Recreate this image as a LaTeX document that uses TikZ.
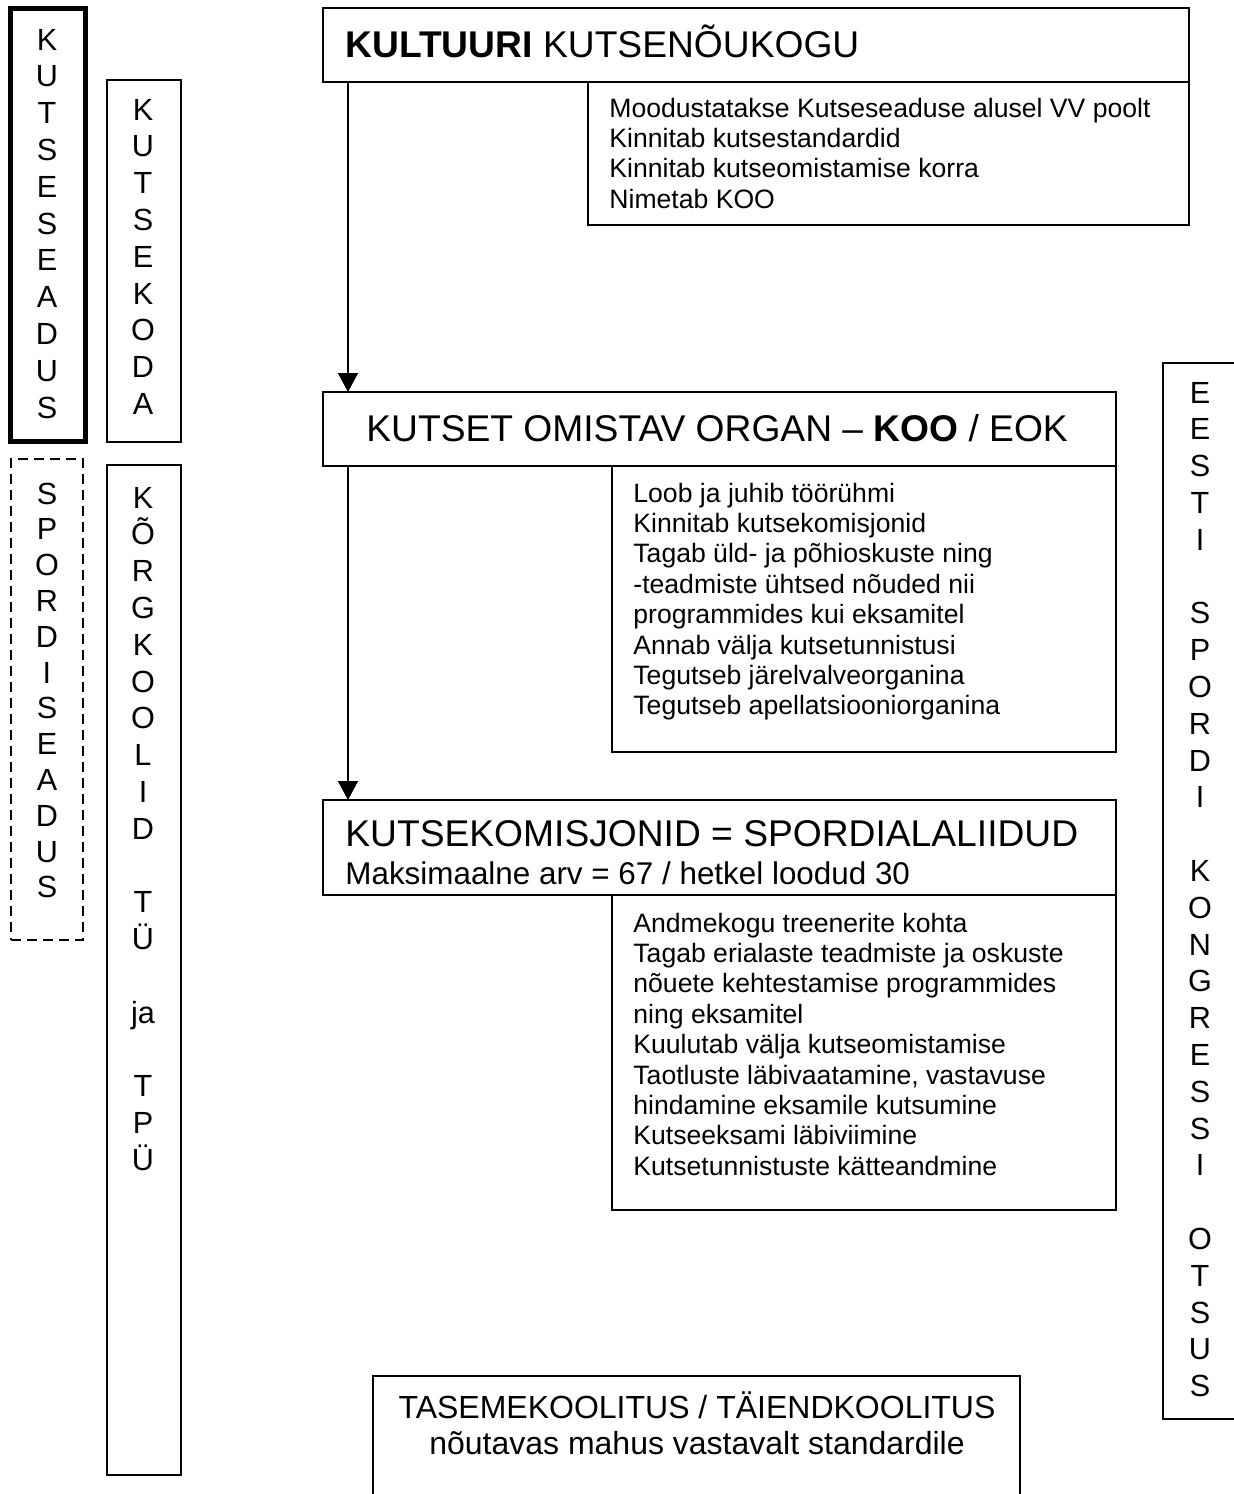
\documentclass[tikz,border=0pt]{standalone}
\usepackage{fontspec}
\setmainfont{Liberation Sans}
\usetikzlibrary{arrows.meta,calc}
\begin{document}
\begin{tikzpicture}[x=0.5pt,y=-0.5pt,
  box/.style={draw, line width=0.9pt, inner sep=0pt, outer sep=0pt},
  thickbox/.style={box, line width=2.6pt},
  dashbox/.style={box, dash pattern=on 5pt off 3pt},
  head/.style={inner sep=0pt, anchor=base west, font=\fontsize{18.6}{22}\selectfont},
  sub/.style={inner sep=0pt, anchor=base west, font=\fontsize{15.7}{18}\selectfont},
  body/.style={inner sep=0pt, anchor=base west, font=\fontsize{13.3}{15.2}\selectfont},
  bot/.style={inner sep=0pt, anchor=base, font=\fontsize{16}{18}\selectfont},
  vert/.style={inner sep=0pt, anchor=base, font=\fontsize{15.3}{18.4}\selectfont},
  arr/.style={line width=0.9pt, -{Triangle[length=9.5pt,width=10pt]}}
]
\useasboundingbox (0,0) rectangle (1234,1494);
\clip (0,0) rectangle (1234,1494);

% left columns
\node[thickbox, minimum width=37.5pt, minimum height=216.5pt] (ks) at (48,225) {};
\node[box, minimum width=37pt, minimum height=181pt] (kod) at (144,261) {};
\node[dashbox, minimum width=36pt, minimum height=240.5pt] (sp) at (47,699.5) {};
\node[box, minimum width=37pt, minimum height=505pt] (kor) at (144,970) {};

\node[vert] (ksT) at (47,50) {\begin{tabular}[t]{@{}c@{}}K\\U\\T\\S\\E\\S\\E\\A\\D\\U\\S\end{tabular}};
\node[vert] (kodT) at (143,120) {\begin{tabular}[t]{@{}c@{}}K\\U\\T\\S\\E\\K\\O\\D\\A\end{tabular}};
\node[vert, font=\fontsize{15.3}{17.9}\selectfont] (spT) at (47,504) {\begin{tabular}[t]{@{}c@{}}S\\P\\O\\R\\D\\I\\S\\E\\A\\D\\U\\S\end{tabular}};
\node[vert] (korT) at (143,508) {\begin{tabular}[t]{@{}c@{}}K\\\smash{Õ}\\R\\G\\K\\O\\O\\L\\I\\D\\ \\T\\\smash{Ü}\\ \\ja\\ \\T\\P\\\smash{Ü}\end{tabular}};

% right column
\node[box, minimum width=53.5pt, minimum height=528pt] (eok) at (1216.5,891) {};
\node[vert] (eokT) at (1200,403) {\begin{tabular}[t]{@{}c@{}}E\\E\\S\\T\\I\\ \\S\\P\\O\\R\\D\\I\\ \\K\\O\\N\\G\\R\\E\\S\\S\\I\\ \\O\\T\\S\\U\\S\end{tabular}};

% main boxes
\node[box, minimum width=433pt, minimum height=37pt] (kk) at (756,45) {};
\node[box, minimum width=300.5pt, minimum height=71.5pt] (t1) at (888.5,153.5) {};
\node[box, minimum width=396.5pt, minimum height=37pt] (koo) at (719.5,429) {};
\node[box, minimum width=252pt, minimum height=143pt] (t2) at (864,609) {};
\node[box, minimum width=396.5pt, minimum height=47.5pt] (kom) at (719.5,847.5) {};
\node[box, minimum width=252pt, minimum height=157.5pt] (t3) at (864,1052.5) {};
\node[box, minimum width=323.5pt, minimum height=77pt] (tase) at (696.5,1453) {};

% texts
\node[head] (kkT) at (345,57) {\textbf{KULTUURI} KUTSENÕUKOGU};
\node[body] (t1T) at (609,117) {\begin{tabular}[t]{@{}l@{}}Moodustatakse Kutseseaduse alusel VV poolt\\Kinnitab kutsestandardid\\Kinnitab kutseomistamise korra\\Nimetab KOO\end{tabular}};

\node[head] (kooT) at (366,441) {KUTSET OMISTAV ORGAN – \textbf{KOO} / EOK};
\node[body] (t2T) at (633,502) {\begin{tabular}[t]{@{}l@{}}Loob ja juhib töörühmi\\Kinnitab kutsekomisjonid\\Tagab üld- ja põhioskuste ning\\-teadmiste ühtsed nõuded nii\\programmides kui eksamitel\\Annab välja kutsetunnistusi\\Tegutseb järelvalveorganina\\Tegutseb apellatsiooniorganina\end{tabular}};

\node[head] (komT) at (345,846) {KUTSEKOMISJONID = SPORDIALALIIDUD};
\node[sub] (komS) at (345,884) {Maksimaalne arv = 67 / hetkel loodud 30};
\node[body] (t3T) at (633,932) {\begin{tabular}[t]{@{}l@{}}Andmekogu treenerite kohta\\Tagab erialaste teadmiste ja oskuste\\nõuete kehtestamise programmides\\ning eksamitel\\Kuulutab välja kutseomistamise\\Taotluste läbivaatamine, vastavuse\\hindamine eksamile kutsumine\\Kutseeksami läbiviimine\\Kutsetunnistuste kätteandmine\end{tabular}};

\node[bot] (taseA) at (697,1418) {TASEMEKOOLITUS / TÄIENDKOOLITUS};
\node[bot] (taseB) at (697,1454) {nõutavas mahus vastavalt standardile};

% connectors
\draw[arr] ($(kk.south west)+(25,0)$) -- ($(koo.north west)+(25,0)$);
\draw[arr] ($(koo.south west)+(25,0)$) -- ($(kom.north west)+(25,0)$);
\end{tikzpicture}
\end{document}
